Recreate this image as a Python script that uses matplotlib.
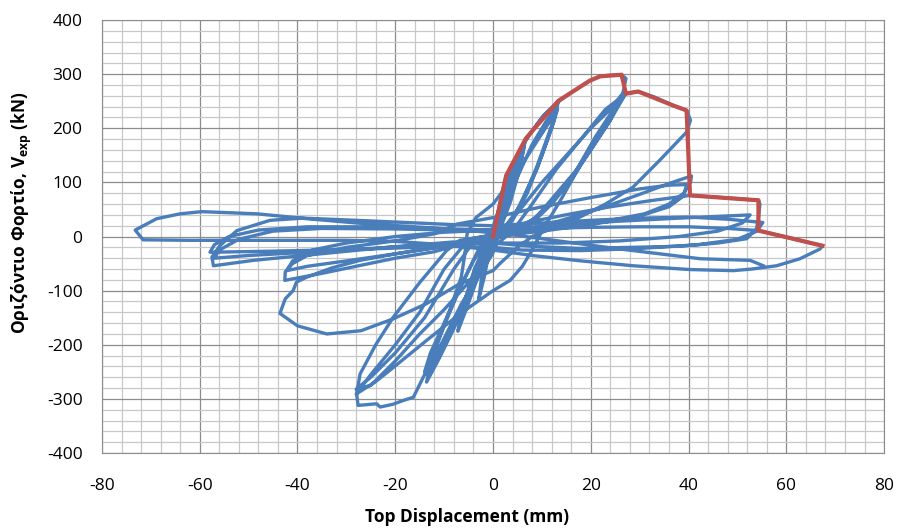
import matplotlib
matplotlib.use("Agg")
import matplotlib.pyplot as plt
from matplotlib.ticker import MultipleLocator
import numpy as np

# hysteresis loops, grouped by displacement amplitude (mm, kN)
disp_03 = [0, 0.8, 1.8, 2.7, 2.3, 1.2, 0.2, -0.8, -1.8, -2.9, -2.4, -1.2, 0]
force_03 = [0, 35, 80, 113, 85, 35, 5, -30, -75, -115, -80, -30, 0]

disp_07 = [1.5, 3.5, 5.2, 6.7, 6.0, 4.2, 2.0, 0.3, -1.5, -3.5, -5.5, -7.2, -6.4, -4.2, -2.0, -0.3,
           1.5, 3.8, 6.3, 5.6, 3.6, 1.5, 0, -2.0, -4.2, -6.8, -6.0, -3.8, -1.5, 0]
force_07 = [45, 100, 145, 181, 150, 90, 35, 5, -30, -85, -135, -175, -140, -75, -25, 0,
            35, 95, 165, 130, 65, 15, 0, -35, -90, -160, -125, -60, -15, 0]

disp_13 = [3, 6.5, 10, 13.4, 12.5, 10, 7, 4, 1.5, 0, -2, -5, -8, -11, -13.6, -12.5, -10, -7, -4, -1.5, 0,
           2, 5, 8, 11, 13, 12, 9, 6, 3, 0, -3, -6, -9, -12, -13.5, -12, -9, -6.5, -5.8, -5.3,
           -3.5, 0, 5, 10, 13.2, 12, 9, 5, 2, 0, -3, -7, -11, -14, -12.8, -9.5, -6, -3, -0.5]
force_13 = [100, 175, 220, 251, 215, 150, 80, 30, 5, -10, -50, -110, -170, -225, -269, -225, -165, -100, -45, -10, 5,
            50, 110, 170, 215, 240, 205, 130, 65, 20, 0, -60, -125, -185, -235, -255, -210, -140, -75, -35, 5,
            35, 60, 120, 190, 235, 200, 125, 50, 10, -5, -60, -140, -210, -250, -215, -150, -80, -25, 5]

disp_27 = [1.2, 2.7, 5, 7.5, 10.5, 13.8, 17, 19.8, 21.9, 24, 26.3, 27.2, 26.5, 24, 20, 16, 12, 8, 4, 0,
           -4, -6.8, -9.5, -15, -20.4, -24, -27.2, -27.9, -27.6, -25, -23.8, -23.1, -20.5, -18.4, -16.3,
           -14, -10.2, -6.5, -3.3, 0, 1,
           3, 6, 10, 15, 20, 24, 27, 25, 21, 17, 13, 8.9, 5, 1, -2, -5, -10, -15, -20, -25, -28,
           -24, -20.4, -13.6, -6.8, 0, 3.5, 6, 8, 10, 14, 19, 23, 27,
           24, 20, 16, 12, 8, 4, 0, -4, -8, -14, -20, -25, -28, -25, -20, -15, -10, -5, -2, 0, 4]
force_27 = [50, 100, 150, 190, 225, 252, 272, 288, 296, 298, 299, 292, 262, 215, 160, 110, 65, 30, 10, 2,
            -3, -7, -26, -85, -149, -200, -254, -291, -312, -310, -309, -315, -310, -303, -297,
            -255, -192, -125, -80, -30, 0,
            25, 55, 100, 150, 200, 235, 270, 240, 185, 122, 80, 36, 15, 5, 0, -5, -60, -140, -200, -255, -291,
            -268, -242, -192, -143, -100, -81, -55, -25, 10, 70, 150, 210, 262,
            215, 160, 105, 60, 25, 5, -5, -10, -60, -150, -215, -260, -282, -275, -230, -180, -135, -85, -50, -20, 10]

disp_40 = [8, 13, 18, 23, 27.2, 29.7, 33, 36.9, 39.6, 40.4, 39.6, 34, 28.6, 23, 17.8, 12, 8, 5, 1.4, 0,
           -6.8, -13.6, -20.4, -27, -34, -40, -43.6, -42.5, -40.9, -40.2, -38.1, -33, -27.2, -20, -13.6,
           -8, -3.3, 0,
           6, 14, 22, 30, 36, 40.6, 40.4, 39, 36, 31, 24, 16, 8, 0, -5, -12, -20, -28, -35, -42.6,
           -42.5, -41, -38, -30, -20, -12, -7.4,
           0, 10, 20, 30, 36, 39.6, 39, 36, 30, 20, 10, 0, -10, -20, -30, -38, -42.2,
           -41, -37, -30, -20, -10, 0]
force_40 = [60, 125, 180, 235, 264, 268, 258, 242, 233, 215, 193, 140, 91, 60, 36, 15, 0, -20, -50, -63,
            -87, -124, -152, -174, -180, -165, -142, -115, -100, -84, -75, -58, -44, -32, -23,
            -15, -10, -5,
            10, 30, 52, 78, 98, 112, 100, 80, 60, 42, 30, 20, 12, 5, -10, -28, -40, -55, -68, -81,
            -65, -50, -35, -20, -8, 5, 23,
            35, 55, 72, 88, 95, 96, 75, 55, 38, 22, 10, 0, -18, -32, -45, -55, -63,
            -45, -25, -12, 0, 8, 12]

disp_54 = [8, 16, 24, 32, 40.3, 47, 54.3, 54.6, 54.3, 53.9, 51.9, 46, 38, 28, 18, 8, 0,
           -8.1, -21.7, -38.8, -49, -57.2, -57.5, -55.9, -52.4, -45.6, -38.8, -28, -18, -8, 0,
           10, 20, 30, 40, 48, 55.2, 54, 50, 42, 30, 18, 6, 0, -10, -22, -35, -45, -52, -57.9,
           -57, -54, -48, -38, -25, -12, 0,
           12, 25, 38, 48, 52.6, 51, 46, 38, 26, 14, 0, -12, -25, -40, -50, -57,
           -56, -52, -45, -35, -20, -8, 0]
force_54 = [28, 42, 55, 66, 76, 72, 67, 60, 35, 14, -4, -12, -18, -20, -22, -18, -12,
            -10, -20, -35, -44, -54, -38, -17, 11, 30, 34, 30, 26, 22, 20,
            25, 30, 34, 36, 32, 26, 10, -5, -15, -22, -26, -25, -20, -18, -22, -25, -27, -28, -29,
            -15, 0, 12, 18, 18, 15, 12,
            20, 28, 34, 38, 40, 25, 10, 0, -8, -12, -12, -15, -22, -30, -35, -40,
            -25, -5, 10, 15, 14, 12, 12]

disp_67 = [10, 20, 30, 40, 48, 54.3, 60, 67.4, 66.9, 62.8, 58, 53, 49.2, 40.3, 28.7, 18, 8, 0,
           -10, -20, -30, -40, -50, -62, -71.6, -73.2, -68.8, -64, -59.6, -48.3, -38.1, -27.9, -14.3,
           -4.7, 5, 15, 25, 35, 42.4, 52.6, 55.3]
force_67 = [15, 17, 18, 18, 15, 11, -1, -17, -23, -41, -54, -60, -63, -61, -54, -45, -35, -25,
            -15, -9, -7, -7, -7, -7, -6, 12, 33, 42, 46, 42, 33, 25, 17,
            11, 2, -10, -22, -33, -41, -44, -54]

# red envelope
env_disp = [0, 2.7, 6.7, 13.4, 19.8, 21.9, 26.3, 27.2, 29.7, 36.9, 39.6, 40.3, 54.3, 54.3, 67.4]
env_force = [0, 113, 181, 251, 288, 296, 299, 264, 268, 242, 233, 76, 67, 11, -17]

disp = np.concatenate([disp_03, disp_07, disp_13, disp_27, disp_40, disp_54, disp_67])
force = np.concatenate([force_03, force_07, force_13, force_27, force_40, force_54, force_67])

plt.rcParams['font.family'] = ['Open Sans', 'DejaVu Sans']
plt.rcParams['mathtext.fontset'] = 'custom'
plt.rcParams['mathtext.bf'] = 'Open Sans:bold'
plt.rcParams['mathtext.rm'] = 'Open Sans'
plt.rcParams['axes.unicode_minus'] = False

fig = plt.figure(figsize=(9, 5.28), dpi=100)
ax = fig.add_axes([0.1133, 0.142, 0.869, 0.820])

ax.plot(disp, force, color='#4a7ebb', lw=2.4, solid_joinstyle='round', zorder=3)
ax.plot(env_disp, env_force, color='#c0504d', lw=3.0, solid_joinstyle='round', zorder=4)

ax.set_xlim(-80, 80)
ax.set_ylim(-400, 400)
ax.xaxis.set_major_locator(MultipleLocator(20))
ax.xaxis.set_minor_locator(MultipleLocator(4))
ax.yaxis.set_major_locator(MultipleLocator(100))
ax.yaxis.set_minor_locator(MultipleLocator(20))
ax.grid(which='minor', color='#c8c8c8', lw=0.9, zorder=0)
ax.grid(which='major', color='#8c8c8c', lw=0.9, zorder=1)
ax.set_axisbelow(True)
ax.tick_params(which='both', length=0, labelsize=12.5, colors='#000000')
ax.tick_params(axis='x', pad=18)
ax.tick_params(axis='y', pad=14)
for s in ax.spines.values():
    s.set_color('#8c8c8c')

fig.text(467 / 900, 1 - 517 / 528, 'Top Displacement (mm)', ha='center', va='center',
         fontsize=12.5, fontweight='bold')
fig.text(22 / 900, 1 - 213 / 528, r'Οριζόντιο Φορτίο, V$_{\mathbf{exp}}$ (kN)', ha='center',
         va='center', rotation=90, fontsize=12.5, fontweight='bold')

fig.savefig('out.png', dpi=100)
